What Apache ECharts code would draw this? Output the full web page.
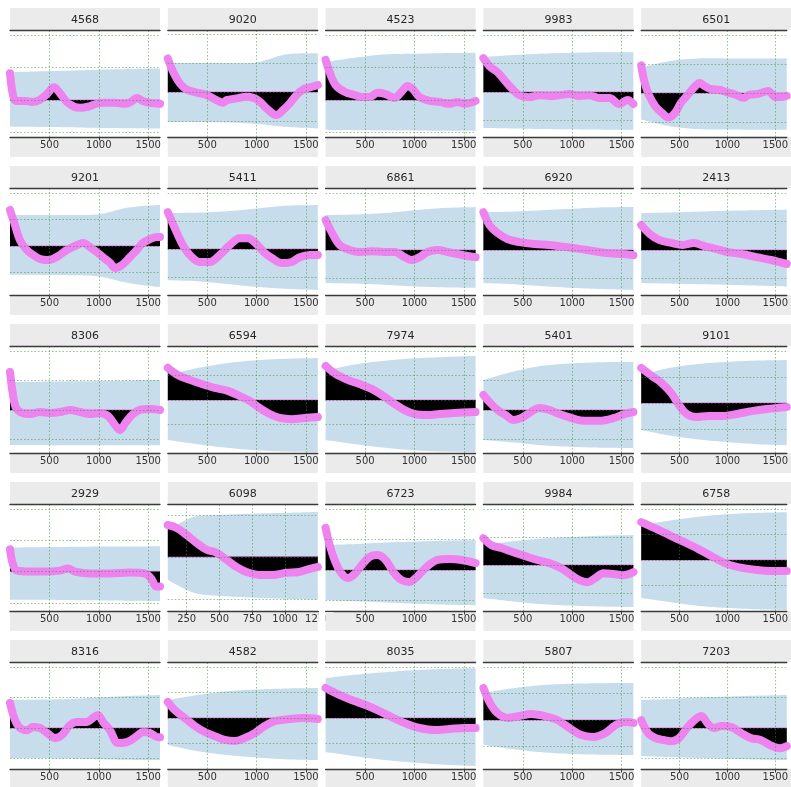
<!DOCTYPE html>
<html>
<head>
<meta charset="utf-8">
<script src="https://cdn.jsdelivr.net/npm/echarts@6/dist/echarts.min.js"></script>
<style>
  html, body { margin: 0; padding: 0; background: #ffffff; }
  #main { width: 791px; height: 787px; }
</style>
</head>
<body>
<div id="main"></div>
<script>
// Panel order (row by row, five per row)
const panelIds = ['4568','9020','4523','9983','6501',
                  '9201','5411','6861','6920','2413',
                  '8306','6594','7974','5401','9101',
                  '2929','6098','6723','9984','6758',
                  '8316','4582','8035','5807','7203'];

// Shared x extent and tick labels; 6098 has its own
const xRange = [100, 1620];
const xTicks = [500, 1000, 1500];
const xRange_6098 = [106, 1250];
const xTicks_6098 = [250, 500, 750, 1000, 1250];

// Horizontal reference levels (0 = baseline)
const hTicks = [-1, 0, 1, 2];

// y extent of each panel, in panel order
const yLow  = [-1.14,-1.55,-1.14,-1.58,-1.52, -1.85,-1.64,-1.58,-1.58,-1.58, -1.46,-2.16,-2.16,-1.46,-1.92, -1.26,-1.29,-1.34,-1.64,-2.0, -1.34,-2.0,-2.0,-1.85,-1.34];
const yHigh = [ 2.15, 2.14, 2.15, 2.18, 2.17,  2.19, 2.18, 2.18, 2.18, 2.18,  2.17, 2.2, 2.2, 2.17, 2.19,  2.16, 1.26, 2.16, 2.18, 2.2,  2.16, 2.2, 2.2, 2.19, 2.16];

// Interval band sample positions
const bandX = [100, 400, 700, 1000, 1300, 1620];
const bandX_6098 = [106, 300, 500, 750, 1000, 1250];

// Interval bands (upper / lower)
const hi_4568 = [0.85,0.88,0.9,0.93,0.95,0.97];   const lo_4568 = [-0.82,-0.83,-0.84,-0.86,-0.87,-0.88];
const hi_9020 = [1.0,1.0,1.0,1.02,1.3,1.34];      const lo_9020 = [-1.03,-1.03,-1.05,-1.1,-1.2,-1.25];
const hi_4523 = [1.17,1.3,1.4,1.42,1.44,1.45];    const lo_4523 = [-0.92,-0.93,-0.94,-0.94,-0.95,-0.95];
const hi_9983 = [1.23,1.3,1.35,1.38,1.4,1.4];     const lo_9983 = [-1.26,-1.28,-1.3,-1.31,-1.32,-1.33];
const hi_6501 = [0.88,1.1,1.19,1.19,1.19,1.19];   const lo_6501 = [-0.92,-1.15,-1.25,-1.26,-1.27,-1.27];
const hi_9201 = [1.17,1.17,1.17,1.2,1.45,1.55];   const lo_9201 = [-1.09,-1.09,-1.1,-1.15,-1.4,-1.55];
const hi_5411 = [1.29,1.3,1.35,1.45,1.55,1.57];   const lo_5411 = [-1.11,-1.15,-1.25,-1.35,-1.42,-1.46];
const hi_6861 = [1.23,1.25,1.3,1.4,1.48,1.51];    const lo_6861 = [-1.16,-1.18,-1.22,-1.28,-1.31,-1.33];
const hi_6920 = [1.33,1.35,1.4,1.45,1.5,1.51];    const lo_6920 = [-1.16,-1.2,-1.27,-1.33,-1.37,-1.4];
const hi_2413 = [1.3,1.32,1.35,1.38,1.4,1.42];    const lo_2413 = [-1.16,-1.18,-1.2,-1.22,-1.25,-1.28];
const hi_8306 = [0.95,0.96,0.97,0.98,1.0,1.02];   const lo_8306 = [-1.19,-1.19,-1.2,-1.2,-1.2,-1.2];
const hi_6594 = [1.02,1.3,1.5,1.62,1.68,1.71];    const lo_6594 = [-1.63,-1.8,-1.95,-2.05,-2.1,-2.12];
const hi_7974 = [1.2,1.45,1.6,1.7,1.75,1.8];      const lo_7974 = [-1.63,-1.8,-1.95,-2.05,-2.1,-2.12];
const hi_5401 = [1.02,1.3,1.5,1.58,1.62,1.63];    const lo_5401 = [-1.02,-1.1,-1.2,-1.25,-1.28,-1.29];
const hi_9101 = [1.08,1.35,1.5,1.58,1.63,1.65];   const lo_9101 = [-1.04,-1.25,-1.4,-1.5,-1.58,-1.62];
const hi_2929 = [0.77,0.78,0.79,0.8,0.8,0.81];    const lo_2929 = [-0.9,-0.9,-0.91,-0.92,-0.93,-0.94];
const hi_6098 = [0.64,0.95,1.0,1.03,1.05,1.07];   const lo_6098 = [-0.55,-0.85,-0.93,-0.97,-1.0,-1.02];
const hi_6723 = [0.82,0.85,0.9,0.93,0.96,0.98];   const lo_6723 = [-0.98,-1.02,-1.06,-1.1,-1.13,-1.15];
const hi_9984 = [0.71,0.85,0.95,1.0,1.05,1.07];   const lo_9984 = [-1.18,-1.3,-1.4,-1.45,-1.48,-1.5];
const hi_6758 = [1.37,1.55,1.7,1.8,1.85,1.88];    const lo_6758 = [-1.49,-1.65,-1.8,-1.88,-1.93,-1.96];
const hi_8316 = [0.92,0.93,0.95,1.0,1.05,1.08];   const lo_8316 = [-0.98,-0.99,-1.0,-1.02,-1.04,-1.05];
const hi_4582 = [0.71,0.9,1.05,1.12,1.16,1.18];   const lo_4582 = [-1.06,-1.3,-1.45,-1.55,-1.62,-1.65];
const hi_8035 = [1.57,1.7,1.8,1.88,1.93,1.96];    const lo_8035 = [-1.33,-1.5,-1.65,-1.75,-1.83,-1.88];
const hi_5807 = [1.02,1.2,1.32,1.37,1.39,1.4];    const lo_5807 = [-0.94,-1.1,-1.22,-1.28,-1.31,-1.32];
const hi_7203 = [0.92,0.95,1.0,1.03,1.06,1.08];   const lo_7203 = [-0.92,-0.95,-0.98,-1.0,-1.03,-1.05];

// Smoothed series, relative to baseline
const line_4568 = [[100,0.82],[130,0.15],[160,-0.03],[250,-0.03],[330,-0.06],[400,0],[475,0.18],[545,0.39],[605,0.21],[675,-0.06],[750,-0.21],[810,-0.24],[890,-0.21],[970,-0.12],[1060,-0.09],[1165,-0.09],[1265,-0.12],[1325,-0.06],[1385,0.06],[1445,-0.03],[1520,-0.09],[1620,-0.12]];
const line_9020 = [[100,1.16],[154,0.7],[222,0.3],[290,0.09],[391,-0.02],[492,-0.1],[594,-0.28],[661,-0.37],[695,-0.28],[797,-0.22],[898,-0.16],[965,-0.2],[1032,-0.33],[1100,-0.56],[1201,-0.79],[1268,-0.62],[1336,-0.39],[1404,-0.1],[1471,0.09],[1539,0.16],[1620,0.24]];
const line_4523 = [[100,1.23],[140,0.86],[201,0.46],[292,0.25],[394,0.15],[465,0.09],[546,0.09],[627,0.22],[708,0.18],[799,0.06],[870,0.25],[931,0.43],[991,0.31],[1052,0.09],[1154,-0.03],[1255,-0.06],[1356,-0.12],[1437,-0.06],[1508,-0.12],[1620,-0.03]];
const line_9983 = [[100,1.19],[161,0.91],[242,0.7],[313,0.42],[384,0.14],[465,-0.11],[566,-0.18],[667,-0.11],[769,-0.14],[870,-0.11],[971,-0.07],[1073,-0.14],[1174,-0.11],[1275,-0.21],[1376,-0.21],[1478,-0.42],[1559,-0.28],[1620,-0.42]];
const line_6501 = [[100,0.95],[130,0.44],[180,-0.07],[250,-0.47],[315,-0.68],[385,-0.85],[455,-0.68],[515,-0.34],[585,-0.07],[655,0.2],[710,0.34],[760,0.24],[820,0.14],[920,0.1],[990,0.03],[1095,-0.07],[1165,-0.17],[1225,-0.07],[1325,-0.03],[1425,0.07],[1500,-0.14],[1570,-0.14],[1620,-0.1]];
const line_9201 = [[100,1.36],[150,0.79],[200,0.23],[270,-0.15],[335,-0.34],[405,-0.49],[475,-0.53],[535,-0.49],[605,-0.34],[675,-0.15],[780,0.04],[840,0.11],[910,-0.04],[980,-0.23],[1040,-0.42],[1115,-0.64],[1165,-0.83],[1235,-0.72],[1315,-0.42],[1385,-0.15],[1445,0.11],[1520,0.26],[1590,0.34],[1620,0.34]];
const line_5411 = [[100,1.32],[171,0.75],[242,0.21],[323,-0.21],[424,-0.46],[525,-0.46],[627,-0.21],[728,0.14],[829,0.39],[910,0.39],[991,0.21],[1073,-0.11],[1154,-0.32],[1255,-0.5],[1356,-0.46],[1437,-0.29],[1538,-0.21],[1620,-0.21]];
const line_6861 = [[100,1.05],[161,0.63],[242,0.18],[343,0],[444,-0.07],[566,-0.04],[698,-0.07],[799,-0.07],[900,-0.25],[971,-0.35],[1052,-0.25],[1133,-0.07],[1235,0],[1336,-0.07],[1437,-0.14],[1538,-0.21],[1620,-0.25]];
const line_6920 = [[100,1.33],[161,0.88],[242,0.6],[343,0.39],[465,0.28],[617,0.21],[769,0.18],[921,0.11],[1073,0.04],[1224,-0.04],[1376,-0.11],[1528,-0.14],[1620,-0.18]];
const line_2413 = [[100,0.88],[191,0.56],[292,0.35],[414,0.25],[536,0.18],[647,0.25],[758,0.14],[880,0.04],[1002,-0.07],[1154,-0.14],[1306,-0.25],[1457,-0.35],[1620,-0.49]];
const line_8306 = [[100,1.29],[130,0.51],[161,0.07],[222,-0.1],[303,-0.14],[404,-0.07],[505,-0.1],[607,-0.07],[708,0],[809,-0.07],[910,-0.14],[1012,-0.1],[1093,-0.2],[1164,-0.51],[1214,-0.68],[1275,-0.41],[1346,-0.14],[1417,0],[1518,0.03],[1620,0]];
const line_6594 = [[100,1.31],[201,1.02],[323,0.82],[444,0.65],[576,0.49],[708,0.37],[829,0.16],[931,-0.04],[1032,-0.33],[1133,-0.57],[1235,-0.73],[1356,-0.78],[1488,-0.73],[1620,-0.69]];
const line_7974 = [[100,1.39],[201,1.06],[323,0.82],[444,0.65],[566,0.45],[688,0.16],[799,-0.16],[900,-0.41],[1002,-0.57],[1133,-0.61],[1255,-0.57],[1407,-0.53],[1620,-0.49]];
const line_5401 = [[100,0.51],[161,0.27],[242,0],[323,-0.17],[404,-0.34],[485,-0.27],[566,-0.1],[667,0.07],[769,0],[870,-0.14],[991,-0.27],[1123,-0.37],[1275,-0.37],[1427,-0.27],[1528,-0.14],[1620,-0.07]];
const line_9101 = [[100,1.35],[211,1.04],[313,0.77],[414,0.38],[495,-0.08],[576,-0.42],[677,-0.54],[799,-0.5],[951,-0.5],[1103,-0.42],[1255,-0.31],[1407,-0.23],[1620,-0.15]];
const line_2929 = [[100,0.71],[130,0.23],[171,0.03],[303,0],[455,0],[607,0.03],[688,0.1],[758,0],[910,-0.06],[1113,-0.06],[1316,-0.03],[1468,-0.06],[1539,-0.26],[1579,-0.48],[1620,-0.48]];
const line_6098 = [[106,0.76],[174,0.69],[250,0.52],[326,0.33],[402,0.17],[477,0.1],[553,-0.07],[629,-0.24],[705,-0.36],[803,-0.43],[902,-0.43],[1008,-0.38],[1107,-0.36],[1182,-0.29],[1250,-0.24]];
const line_6723 = [[100,1.38],[141,0.82],[191,0.33],[252,-0.07],[323,-0.26],[394,-0.13],[465,0.16],[546,0.43],[627,0.49],[708,0.33],[789,-0.07],[870,-0.33],[951,-0.39],[1032,-0.2],[1133,0.13],[1235,0.33],[1356,0.36],[1478,0.33],[1620,0.23]];
const line_9984 = [[100,0.96],[181,0.71],[282,0.61],[404,0.46],[525,0.32],[647,0.18],[769,0.07],[890,-0.11],[991,-0.36],[1073,-0.54],[1154,-0.61],[1235,-0.46],[1316,-0.29],[1417,-0.32],[1518,-0.36],[1620,-0.25]];
const line_6758 = [[100,1.49],[242,1.25],[394,0.98],[546,0.71],[698,0.43],[850,0.12],[1002,-0.16],[1154,-0.31],[1306,-0.39],[1457,-0.43],[1620,-0.43]];
const line_8316 = [[100,0.82],[151,0.26],[201,0],[272,-0.07],[333,0.03],[404,0],[475,-0.16],[556,-0.33],[627,-0.23],[708,0.1],[779,0.2],[880,0.2],[941,0.33],[991,0.43],[1042,0.2],[1113,-0.07],[1194,-0.49],[1285,-0.46],[1387,-0.26],[1447,-0.13],[1518,-0.16],[1599,-0.3],[1620,-0.3]];
const line_4582 = [[100,0.63],[171,0.31],[272,0],[374,-0.31],[475,-0.55],[576,-0.71],[677,-0.86],[779,-0.9],[880,-0.78],[981,-0.59],[1083,-0.31],[1184,-0.12],[1336,-0.04],[1488,0],[1620,-0.04]];
const line_8035 = [[100,1.18],[222,0.94],[363,0.71],[505,0.51],[647,0.27],[789,0],[931,-0.24],[1052,-0.39],[1204,-0.47],[1356,-0.43],[1508,-0.39],[1620,-0.39]];
const line_5807 = [[100,1.21],[161,0.68],[242,0.26],[343,0.08],[465,0.15],[586,0.23],[718,0.15],[850,0],[971,-0.3],[1093,-0.57],[1214,-0.64],[1336,-0.49],[1457,-0.15],[1559,-0.08],[1620,-0.11]];
const line_7203 = [[100,0.26],[171,-0.16],[252,-0.33],[333,-0.39],[414,-0.43],[495,-0.33],[576,0],[657,0.26],[728,0.39],[799,0.13],[860,0],[941,0.07],[1042,0.03],[1143,-0.16],[1245,-0.33],[1346,-0.39],[1447,-0.56],[1549,-0.66],[1620,-0.59]];

const lines = {line_4568, line_9020, line_4523, line_9983, line_6501, line_9201, line_5411, line_6861, line_6920, line_2413,
  line_8306, line_6594, line_7974, line_5401, line_9101, line_2929, line_6098, line_6723, line_9984, line_6758,
  line_8316, line_4582, line_8035, line_5807, line_7203};
const bandsHi = {hi_4568, hi_9020, hi_4523, hi_9983, hi_6501, hi_9201, hi_5411, hi_6861, hi_6920, hi_2413,
  hi_8306, hi_6594, hi_7974, hi_5401, hi_9101, hi_2929, hi_6098, hi_6723, hi_9984, hi_6758,
  hi_8316, hi_4582, hi_8035, hi_5807, hi_7203};
const bandsLo = {lo_4568, lo_9020, lo_4523, lo_9983, lo_6501, lo_9201, lo_5411, lo_6861, lo_6920, lo_2413,
  lo_8306, lo_6594, lo_7974, lo_5401, lo_9101, lo_2929, lo_6098, lo_6723, lo_9984, lo_6758,
  lo_8316, lo_4582, lo_8035, lo_5807, lo_7203};

// ---- layout & style ----
const FONT = 'DejaVu Sans';
const PANEL_W = 150, PANEL_H = 107;
const COL_STEP = 157.8, ROW_STEP = 158;
const LEFT0 = 10, TOP0 = 30;
const TITLE_H = 22, TICKBAND_H = 20;
const STRIP = '#ebebeb';
const SPINE = '#3a3a3a';
const VIOLET = '#ee82ee';
const BAND = 'rgba(31,119,180,0.25)';
const GRIDC = 'rgba(60,140,60,0.55)';

// Catmull-Rom pass through pixel points so band edges curve smoothly
function smoothEdge(pts, steps) {
  const out = [];
  const n = pts.length;
  for (let i = 0; i < n - 1; i++) {
    const p0 = pts[Math.max(0, i - 1)], p1 = pts[i], p2 = pts[i + 1], p3 = pts[Math.min(n - 1, i + 2)];
    for (let s = 0; s < steps; s++) {
      const t = s / steps, t2 = t * t, t3 = t2 * t;
      out.push([0, 1].map(d => 0.5 * ((2 * p1[d]) + (-p0[d] + p2[d]) * t +
        (2 * p0[d] - 5 * p1[d] + 4 * p2[d] - p3[d]) * t2 + (-p0[d] + 3 * p1[d] - 3 * p2[d] + p3[d]) * t3)));
    }
  }
  out.push(pts[n - 1]);
  return out;
}

const grids = [], xAxes = [], yAxes = [], series = [], graphics = [];

panelIds.forEach((id, i) => {
  const r = Math.floor(i / 5), c = i % 5;
  const left = LEFT0 + COL_STEP * c;
  const top = TOP0 + ROW_STEP * r;
  const own = id === '6098';
  const xr = own ? xRange_6098 : xRange;
  const xt = own ? xTicks_6098 : xTicks;
  const bx = own ? bandX_6098 : bandX;
  const hi = bandsHi['hi_' + id], lo = bandsLo['lo_' + id];
  const ln = lines['line_' + id];
  const yMin = yLow[i], yMax = yHigh[i];

  grids.push({ left: left, top: top, width: PANEL_W, height: PANEL_H, containLabel: false });

  // bottom axis with tick labels
  xAxes.push({
    gridIndex: i, type: 'value', min: xr[0], max: xr[1], position: 'bottom', z: 10,
    axisLine: { show: true, onZero: false, lineStyle: { color: SPINE, width: 1.3 } },
    axisTick: { show: true, customValues: xt, length: 3.5, lineStyle: { color: SPINE, width: 1 } },
    axisLabel: { show: true, customValues: xt, fontSize: 10, color: '#333', margin: 3, fontFamily: FONT,
                 formatter: v => String(v) },
    splitLine: { show: false }
  });
  // top spine
  xAxes.push({
    gridIndex: i, type: 'value', min: xr[0], max: xr[1], position: 'top', z: 10,
    axisLine: { show: true, onZero: false, lineStyle: { color: SPINE, width: 1.3 } },
    axisTick: { show: false }, axisLabel: { show: false }, splitLine: { show: false }
  });
  yAxes.push({ gridIndex: i, type: 'value', min: yMin, max: yMax, show: false, splitLine: { show: false } });

  const xi = 2 * i;
  const levels = hTicks.filter(v => v > yMin && v < yMax);

  // dotted grid
  series.push({
    type: 'line', xAxisIndex: xi, yAxisIndex: i, symbol: 'none', silent: true, z: 1,
    lineStyle: { opacity: 0 },
    data: [[xr[0], 0], [xr[1], 0]],
    markLine: {
      silent: true, symbol: 'none', animation: false,
      label: { show: false },
      lineStyle: { color: GRIDC, type: [1.5, 2], width: 1 },
      data: xt.filter(v => v < xr[1]).map(v => ({ xAxis: v })).concat(levels.map(v => ({ yAxis: v })))
    }
  });
  // interval band between lower and upper edges
  series.push({
    type: 'custom', xAxisIndex: xi, yAxisIndex: i, silent: true, z: 2, clip: true,
    data: bx.map((x, k) => [x, lo[k], hi[k]]),
    encode: { x: 0, y: [1, 2] },
    renderItem: (params, api) => {
      if (params.dataIndex !== 0) return null;
      const up = smoothEdge(bx.map((x, k) => api.coord([x, hi[k]])), 12);
      const dn = smoothEdge(bx.map((x, k) => api.coord([x, lo[k]])), 12).reverse();
      return { type: 'polygon', shape: { points: up.concat(dn) }, style: { fill: BAND } };
    }
  });
  // baseline
  series.push({
    type: 'line', xAxisIndex: xi, yAxisIndex: i, symbol: 'none', silent: true, z: 3,
    lineStyle: { color: VIOLET, width: 1.5 },
    data: [[xr[0], 0], [xr[1], 0]]
  });
  // main trace, black fill to the baseline
  series.push({
    type: 'line', xAxisIndex: xi, yAxisIndex: i, smooth: 0.35, symbol: 'none', silent: true, z: 4,
    lineStyle: { color: VIOLET, width: 8, cap: 'round', join: 'round' },
    areaStyle: { color: '#000000', opacity: 1, origin: 0 },
    data: ln
  });

  // facet title strip
  graphics.push({
    type: 'rect', z: -1, silent: true,
    shape: { x: left, y: top - TITLE_H, width: PANEL_W, height: TITLE_H },
    style: { fill: STRIP }
  });
  graphics.push({
    type: 'text', z: 1, silent: true,
    x: left + PANEL_W / 2, y: top - TITLE_H / 2 + 1,
    style: { text: id, fill: '#262626', font: '11px "' + FONT + '"', textAlign: 'center', textVerticalAlign: 'middle' }
  });
  // strip behind tick labels
  graphics.push({
    type: 'rect', z: -1, silent: true,
    shape: { x: left, y: top + PANEL_H, width: PANEL_W, height: TICKBAND_H },
    style: { fill: STRIP }
  });
  // the last tick label of a narrower axis is cut at the panel edge
  if (own) {
    graphics.push({
      type: 'rect', z: 100, silent: true,
      shape: { x: left + PANEL_W + 0.5, y: top + PANEL_H + 1, width: COL_STEP - PANEL_W - 0.5, height: TICKBAND_H - 1 },
      style: { fill: '#ffffff' }
    });
    graphics.push({
      type: 'rect', z: 100, silent: true,
      shape: { x: left + COL_STEP, y: top + PANEL_H + 1, width: 8, height: TICKBAND_H - 1 },
      style: { fill: STRIP }
    });
  }
});

const chart = echarts.init(document.getElementById('main'), null, { renderer: 'canvas' });
chart.setOption({
  animation: false,
  backgroundColor: '#ffffff',
  graphic: { elements: graphics },
  grid: grids,
  xAxis: xAxes,
  yAxis: yAxes,
  series: series
});
</script>
</body>
</html>
